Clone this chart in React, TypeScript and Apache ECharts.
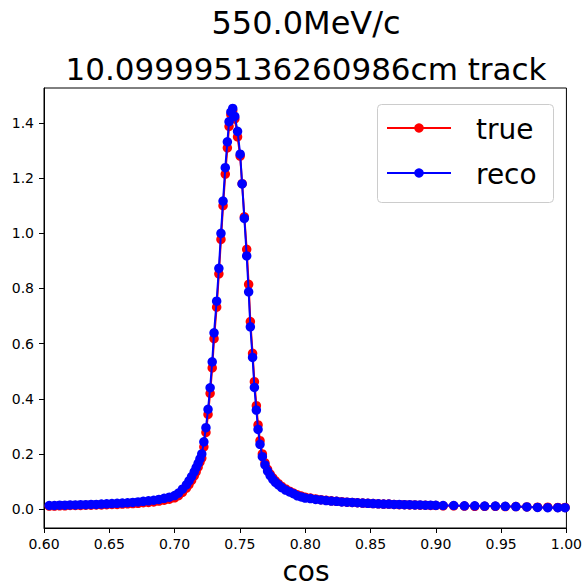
import React, { useEffect, useRef } from "react";
import * as echarts from "echarts";

const cosValues = [
  0.604, 0.608, 0.612, 0.616, 0.62, 0.624, 0.628, 0.632, 0.636, 0.64,
  0.644, 0.648, 0.652, 0.656, 0.66, 0.664, 0.668, 0.672, 0.676, 0.68,
  0.684, 0.688, 0.692, 0.696, 0.7, 0.703, 0.706, 0.709, 0.711, 0.713,
  0.715, 0.7165, 0.718, 0.7194, 0.7208, 0.7224, 0.724, 0.7256, 0.7272, 0.7288,
  0.7302, 0.7322, 0.7339, 0.7355, 0.7371, 0.7388, 0.7404, 0.7417, 0.7431, 0.7445,
  0.7461, 0.7482, 0.7502, 0.7517, 0.7534, 0.7552, 0.7567, 0.758, 0.7597, 0.7611,
  0.7626, 0.7639, 0.7654, 0.7672, 0.7692, 0.7712, 0.7732, 0.7752, 0.7772, 0.7795,
  0.782, 0.785, 0.788, 0.791, 0.794, 0.797, 0.8, 0.804, 0.808, 0.812,
  0.816, 0.82, 0.824, 0.828, 0.832, 0.836, 0.84, 0.844, 0.848, 0.852,
  0.856, 0.86, 0.864, 0.868, 0.872, 0.876, 0.88, 0.884, 0.888, 0.892,
  0.896, 0.9, 0.9056, 0.9137, 0.9219, 0.9298, 0.9374, 0.9456, 0.9532, 0.9613,
  0.9697, 0.9779, 0.9857, 0.9934, 0.999,
];

const trueValues = [
  0.011, 0.011, 0.012, 0.012, 0.013, 0.013, 0.013, 0.014, 0.014, 0.015,
  0.015, 0.016, 0.017, 0.017, 0.018, 0.019, 0.02, 0.021, 0.023, 0.024,
  0.026, 0.029, 0.032, 0.036, 0.041, 0.049, 0.061, 0.076, 0.089, 0.104,
  0.12, 0.135, 0.152, 0.17, 0.185, 0.226, 0.278, 0.343, 0.42, 0.512,
  0.618, 0.732, 0.853, 0.978, 1.1, 1.215, 1.31, 1.388, 1.43, 1.445,
  1.415, 1.35, 1.28, 1.18, 1.06, 0.942, 0.815, 0.68, 0.565, 0.462,
  0.375, 0.305, 0.248, 0.2, 0.168, 0.144, 0.127, 0.113, 0.102, 0.092,
  0.082, 0.073, 0.065, 0.058, 0.052, 0.047, 0.043, 0.04, 0.037, 0.034,
  0.032, 0.03, 0.028, 0.027, 0.025, 0.024, 0.023, 0.022, 0.021, 0.02,
  0.019, 0.018, 0.018, 0.017, 0.016, 0.016, 0.015, 0.015, 0.014, 0.014,
  0.013, 0.013, 0.012, 0.012, 0.011, 0.01, 0.01, 0.01, 0.009, 0.009,
  0.008, 0.007, 0.007, 0.006, 0.006,
];

const recoValues = [
  0.013, 0.013, 0.014, 0.014, 0.015, 0.015, 0.016, 0.016, 0.017, 0.017,
  0.018, 0.019, 0.02, 0.021, 0.022, 0.023, 0.024, 0.026, 0.028, 0.03,
  0.032, 0.035, 0.039, 0.043, 0.049, 0.058, 0.072, 0.088, 0.102, 0.118,
  0.135, 0.15, 0.166, 0.182, 0.2, 0.244, 0.295, 0.362, 0.44, 0.534,
  0.639, 0.754, 0.873, 1.0, 1.117, 1.238, 1.332, 1.405, 1.44, 1.453,
  1.424, 1.37, 1.287, 1.179, 1.054, 0.918, 0.788, 0.661, 0.55, 0.441,
  0.359, 0.289, 0.235, 0.19, 0.16, 0.138, 0.121, 0.108, 0.097, 0.088,
  0.078, 0.069, 0.062, 0.056, 0.048, 0.044, 0.04, 0.038, 0.035, 0.033,
  0.031, 0.029, 0.028, 0.026, 0.025, 0.024, 0.023, 0.022, 0.021, 0.02,
  0.019, 0.018, 0.018, 0.017, 0.017, 0.016, 0.016, 0.015, 0.015, 0.014,
  0.014, 0.0135, 0.013, 0.013, 0.012, 0.012, 0.011, 0.011, 0.01, 0.009,
  0.008, 0.006, 0.005, 0.005, 0.005,
];

const xTicks = [0.6, 0.65, 0.7, 0.75, 0.8, 0.85, 0.9, 0.95, 1.0];
const yTicks = [0, 0.2, 0.4, 0.6, 0.8, 1.0, 1.2, 1.4];

const titleLine1 = "550.0MeV/c";
const titleLine2 = "10.099995136260986cm track";
const xAxisName = "cos";
const seriesNames = ["true", "reco"];

const FONT = "DejaVu Sans";

export default function App() {
  const ref = useRef<HTMLDivElement>(null);
  useEffect(() => {
    if (!ref.current) return;
    document.body.style.margin = "0";
    const chart = echarts.init(ref.current, undefined, { renderer: "svg" });
    const trueData = cosValues.map((c, i) => [c, trueValues[i]]);
    const recoData = cosValues.map((c, i) => [c, recoValues[i]]);
    chart.setOption({
      animation: false,
      backgroundColor: "#ffffff",
      grid: {
        left: 44,
        right: 17,
        top: 88,
        bottom: 59,
        show: true,
        borderColor: "#000000",
        borderWidth: 1,
        backgroundColor: "transparent",
      },
      xAxis: {
        type: "value",
        min: 0.6,
        max: 1.0,
        axisLine: { show: true, onZero: false, lineStyle: { color: "#000", width: 1 } },
        axisTick: {
          show: true,
          inside: false,
          length: 5,
          lineStyle: { color: "#000", width: 1 },
          customValues: xTicks,
        },
        axisLabel: {
          color: "#000",
          fontFamily: FONT,
          fontSize: 14,
          margin: 9,
          customValues: xTicks,
          formatter: (v: number) => v.toFixed(2),
        },
        splitLine: { show: false },
      },
      yAxis: {
        type: "value",
        min: -0.0686,
        max: 1.527,
        axisLine: { show: true, onZero: false, lineStyle: { color: "#000", width: 1 } },
        axisTick: {
          show: true,
          inside: false,
          length: 5,
          lineStyle: { color: "#000", width: 1 },
          customValues: yTicks,
        },
        axisLabel: {
          color: "#000",
          fontFamily: FONT,
          fontSize: 14,
          margin: 10,
          customValues: yTicks,
          formatter: (v: number) => v.toFixed(1),
        },
        splitLine: { show: false },
      },
      series: [
        {
          name: seriesNames[0],
          type: "line",
          data: trueData,
          symbol: "circle",
          symbolSize: 9.5,
          showAllSymbol: true,
          clip: true,
          lineStyle: { color: "#ff0000", width: 2 },
          itemStyle: { color: "#ff0000" },
          z: 2,
        },
        {
          name: seriesNames[1],
          type: "line",
          data: recoData,
          symbol: "circle",
          symbolSize: 9.5,
          showAllSymbol: true,
          clip: true,
          lineStyle: { color: "#0000ff", width: 2 },
          itemStyle: { color: "#0000ff" },
          z: 3,
        },
      ],
      graphic: [
        {
          type: "text",
          x: 306,
          y: 23,
          style: {
            text: titleLine1,
            font: `32px "${FONT}"`,
            fill: "#000",
            align: "center",
            verticalAlign: "middle",
          },
        },
        {
          type: "text",
          x: 306,
          y: 69,
          style: {
            text: titleLine2,
            font: `31px "${FONT}"`,
            fill: "#000",
            align: "center",
            verticalAlign: "middle",
          },
        },
        {
          type: "text",
          x: 306,
          y: 571,
          style: {
            text: xAxisName,
            font: `28px "${FONT}"`,
            fill: "#000",
            align: "center",
            verticalAlign: "middle",
          },
        },
        {
          type: "group",
          z: 100,
          children: [
            {
              type: "rect",
              shape: { x: 377.5, y: 104.5, width: 176, height: 98, r: 4 },
              style: { fill: "rgba(255,255,255,0.8)", stroke: "#cccccc", lineWidth: 1 },
              z: 100,
            },
            {
              type: "line",
              shape: { x1: 387, y1: 128, x2: 451, y2: 128 },
              style: { stroke: "#ff0000", lineWidth: 2 },
              z: 101,
            },
            {
              type: "circle",
              shape: { cx: 419, cy: 128, r: 4.75 },
              style: { fill: "#ff0000" },
              z: 102,
            },
            {
              type: "text",
              x: 476,
              y: 129,
              style: {
                text: seriesNames[0],
                font: `28px "${FONT}"`,
                fill: "#000",
                align: "left",
                verticalAlign: "middle",
              },
              z: 102,
            },
            {
              type: "line",
              shape: { x1: 387, y1: 173, x2: 451, y2: 173 },
              style: { stroke: "#0000ff", lineWidth: 2 },
              z: 101,
            },
            {
              type: "circle",
              shape: { cx: 419, cy: 173, r: 4.75 },
              style: { fill: "#0000ff" },
              z: 102,
            },
            {
              type: "text",
              x: 476,
              y: 174,
              style: {
                text: seriesNames[1],
                font: `28px "${FONT}"`,
                fill: "#000",
                align: "left",
                verticalAlign: "middle",
              },
              z: 102,
            },
          ],
        },
      ],
    });
    return () => chart.dispose();
  }, []);
  return <div ref={ref} style={{ width: 585, height: 587 }} />;
}
